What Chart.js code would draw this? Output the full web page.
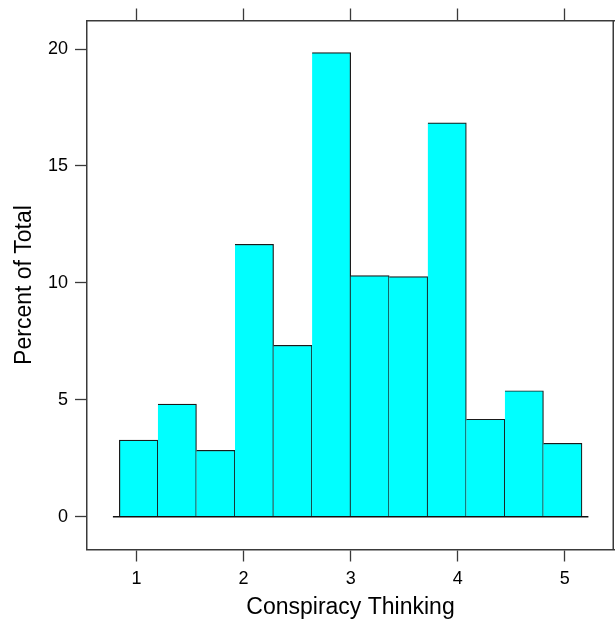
<!DOCTYPE html>
<html>
<head>
<meta charset="utf-8">
<script src="https://cdn.jsdelivr.net/npm/chart.js@4/dist/chart.umd.min.js"></script>
<style>
  body { margin: 0; background: #fff; }
  canvas { display: block; }
</style>
</head>
<body>
<canvas id="hist" width="615" height="621"></canvas>
<script>
// histogram bins (centres, width 0.36) and their heights
const binCenters = [1.02, 1.38, 1.74, 2.10, 2.46, 2.82, 3.18, 3.54, 3.90, 4.26, 4.62, 4.98];
const percents = [3.28, 4.82, 2.84, 11.65, 7.33, 19.85, 10.31, 10.27, 16.84, 4.17, 5.39, 3.14];
const xTicks = [1, 2, 3, 4, 5];
const yTicks = [0, 5, 10, 15, 20];
const baseline = [0.78, 5.22];
const xRange = [0.538, 5.459];
const yRange = [-1.40, 21.22];

const axisColor = '#3a3a3a';
const fontFamily = "'Liberation Sans', Arial, sans-serif";

const setTicks = (vals) => (scale) => {
  scale.ticks = vals.map(v => ({ value: v }));
};

// lattice draws a full box round the panel
const boxPlugin = {
  id: 'box',
  afterDraw(chart) {
    const a = chart.chartArea;
    const ctx = chart.ctx;
    ctx.save();
    ctx.strokeStyle = axisColor;
    ctx.lineWidth = 1.5;
    ctx.beginPath();
    ctx.moveTo(a.right - 0.75, a.top);
    ctx.lineTo(a.right - 0.75, a.bottom);
    ctx.stroke();
    ctx.restore();
  }
};

const gridOpts = { offset: false, drawOnChartArea: false, drawTicks: true, tickLength: 12, tickWidth: 1.3, color: axisColor };
const borderOpts = { display: true, color: axisColor, width: 1.5 };

new Chart(document.getElementById('hist'), {
  type: 'bar',
  data: {
    datasets: [
      {
        type: 'line',
        data: baseline.map(x => ({ x: x, y: 0 })),
        borderColor: '#111',
        borderWidth: 1.5,
        pointRadius: 0,
        order: 0
      },
      {
        data: binCenters.map((x, i) => ({ x: x, y: percents[i] })),
        backgroundColor: '#00ffff',
        borderColor: '#1a1a1a',
        borderWidth: (c) => ({ top: 1.2, right: 1.2, bottom: 0, left: c.dataIndex === 0 ? 1.2 : 0 }),
        borderSkipped: false,
        barPercentage: 1,
        categoryPercentage: 1,
        order: 1
      }
    ]
  },
  options: {
    responsive: false,
    animation: false,
    layout: { padding: { top: 8.5, right: 1, left: 0, bottom: 0 } },
    plugins: { legend: { display: false }, tooltip: { enabled: false } },
    scales: {
      x: {
        type: 'linear',
        position: 'bottom',
        min: xRange[0],
        max: xRange[1],
        offset: false,
        afterBuildTicks: setTicks(xTicks),
        afterFit: (s) => { s.height = 71.5; },
        grid: gridOpts,
        border: borderOpts,
        ticks: { color: '#000', padding: 7, font: { family: fontFamily, size: 18 } },
        title: {
          display: true,
          text: 'Conspiracy Thinking',
          color: '#000',
          font: { family: fontFamily, size: 23 },
          padding: { top: 0, bottom: 0 }
        }
      },
      x2: {
        type: 'linear',
        position: 'top',
        min: xRange[0],
        max: xRange[1],
        offset: false,
        afterBuildTicks: setTicks(xTicks),
        afterFit: (s) => { s.height = 12; },
        grid: gridOpts,
        border: borderOpts,
        ticks: { display: false }
      },
      y: {
        type: 'linear',
        position: 'left',
        min: yRange[0],
        max: yRange[1],
        afterBuildTicks: setTicks(yTicks),
        afterFit: (s) => { s.width = 87; },
        grid: gridOpts,
        border: borderOpts,
        ticks: { color: '#000', padding: 7, font: { family: fontFamily, size: 18 } },
        title: {
          display: true,
          text: 'Percent of Total',
          color: '#000',
          font: { family: fontFamily, size: 23 },
          padding: { top: 11, bottom: 0 }
        }
      }
    }
  },
  plugins: [boxPlugin]
});
</script>
</body>
</html>
